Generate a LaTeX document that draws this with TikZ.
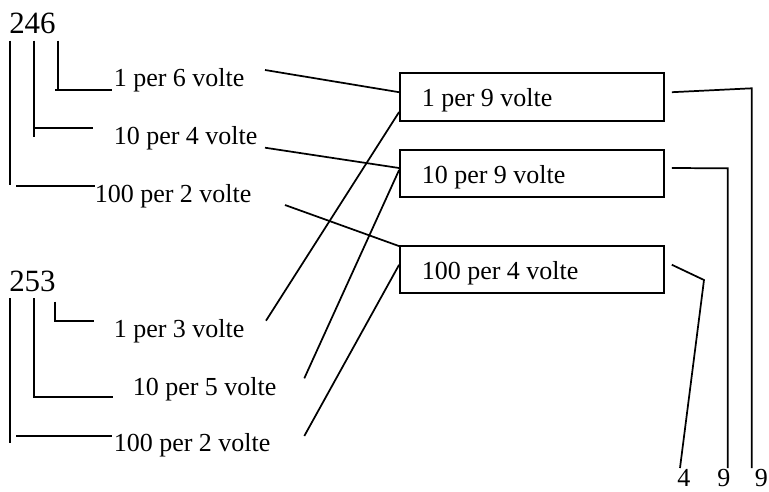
\documentclass[tikz,border=0pt]{standalone}
\usepackage{fontspec}
\setmainfont{Liberation Serif}
\usetikzlibrary{fit,calc}
\begin{document}
\begin{tikzpicture}[x=0.75pt,y=-0.75pt,
  lbl/.style={anchor=base west, inner sep=0pt, font=\fontsize{19.5}{22}\selectfont},
  num/.style={anchor=base west, inner sep=0pt, font=\fontsize{23.2}{26}\selectfont},
  box/.style={draw, inner sep=0pt, line width=1.3pt},
  wire/.style={line width=1.3pt}]
\useasboundingbox (0,0) rectangle (769,492);

% numbers
\node[num] (n246) at (9,33.3) {246};
\node[num] (n253) at (9,291.7) {253};

% left labels, first number
\node[lbl] (a1) at (113.5,87) {1 per 6 volte};
\node[lbl] (a2) at (113.5,145) {10 per 4 volte};
\node[lbl] (a3) at (94.5,203) {100 per 2 volte};
% left labels, second number
\node[lbl] (s1) at (113.5,337.3) {1 per 3 volte};
\node[lbl] (s2) at (132.5,395) {10 per 5 volte};
\node[lbl] (s3) at (113.5,451.7) {100 per 2 volte};

% boxes
\node[box, fit={(400,73.3) (664.3,121)}] (b1) {};
\node[box, fit={(400,150) (664.3,196.7)}] (b2) {};
\node[box, fit={(400,246) (664.3,293.3)}] (b3) {};
\node[lbl] (t1) at (421.5,106.7) {1 per 9 volte};
\node[lbl] (t2) at (421.5,183.3) {10 per 9 volte};
\node[lbl] (t3) at (421.5,279.5) {100 per 4 volte};

% bottom digits
\node[lbl] (d4) at (677,486.5) {4};
\node[lbl] (d9a) at (717,486.5) {9};
\node[lbl] (d9b) at (754.5,486.5) {9};

% bracket coordinates, first number
\coordinate (p1t) at (10,40.7);  \coordinate (p1b) at (10,185);
\coordinate (p1h) at (16,186.3); \coordinate (p1e) at (95,186.3);
\coordinate (p2t) at (34,40.7);  \coordinate (p2b) at (34,137);
\coordinate (p2h) at (34,128);   \coordinate (p2e) at (93,128);
\coordinate (p3t) at (58,40.7);  \coordinate (p3b) at (58,90);
\coordinate (p3h) at (55,90);    \coordinate (p3e) at (112,90);
% bracket coordinates, second number
\coordinate (q1t) at (10,298);   \coordinate (q1b) at (10,442.7);
\coordinate (q1h) at (16,436);   \coordinate (q1e) at (112,436);
\coordinate (q2t) at (34,298);   \coordinate (q2b) at (34,396.7);
\coordinate (q2e) at (113,396.7);
\coordinate (q3t) at (55,301.7);  \coordinate (q3b) at (55,320.7);
\coordinate (q3e) at (94,320.7);

\draw[wire] (p1t) -- (p1b);
\draw[wire] (p1h) -- (p1e);
\draw[wire] (p2t) -- (p2b);
\draw[wire] (p2h) -- (p2e);
\draw[wire] (p3t) -- (p3b);
\draw[wire] (p3h) -- (p3e);
\draw[wire] (q1t) -- (q1b);
\draw[wire] (q1h) -- (q1e);
\draw[wire] (q2t) -- (q2b) -- (q2e);
\draw[wire] (q3t) -- (q3b) -- (q3e);

% connectors from labels to boxes
\coordinate (c1) at (265,70);
\coordinate (c2) at (265,147.7);
\coordinate (c3) at (285,205);
\coordinate (e1) at (266,320.7);
\coordinate (e2) at (304.3,378.3);
\coordinate (e3) at (304.3,436);
\draw[wire] (c1) -- ($(b1.north west)!0.40!(b1.south west)$);
\draw[wire] (c2) -- ($(b2.north west)!0.39!(b2.south west)$);
\draw[wire] (c3) -- ($(b3.north west)!0.02!(b3.south west)$);
\draw[wire] (e1) -- ($(b1.north west)!0.80!(b1.south west)$);
\draw[wire] (e2) -- ($(b2.north west)!0.43!(b2.south west)$);
\draw[wire] (e3) -- ($(b3.north west)!0.40!(b3.south west)$);

% connectors from boxes to digits
\coordinate (k1) at (751.7,88.3);   \coordinate (m1) at (751.7,468);
\coordinate (k2) at (727.7,168.3);  \coordinate (m2) at (727.7,468);
\coordinate (k3) at (704,280);      \coordinate (m3) at (680,468);
\draw[wire] ([xshift=5]$(b1.north east)!0.40!(b1.south east)$) -- (k1) -- (m1);
\draw[wire] ([xshift=5]$(b2.north east)!0.39!(b2.south east)$) -- (k2) -- (m2);
\draw[wire] ([xshift=5]$(b3.north east)!0.40!(b3.south east)$) -- (k3) -- (m3);
\end{tikzpicture}
\end{document}
